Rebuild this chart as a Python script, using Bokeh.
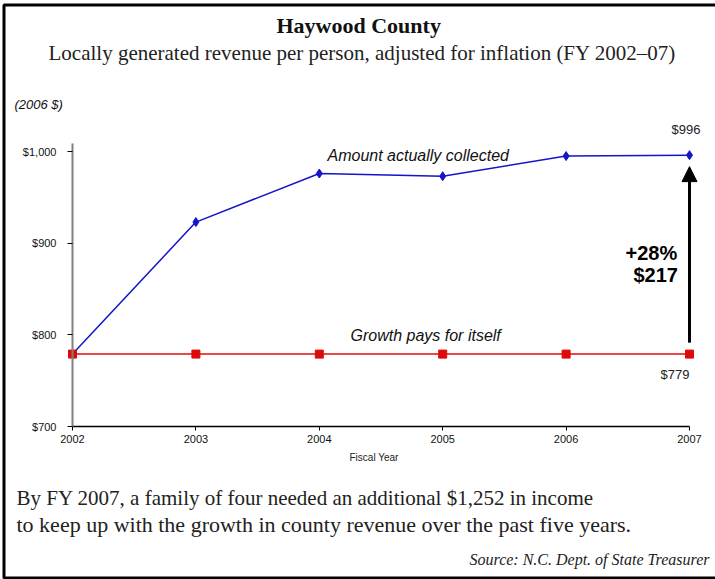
from bokeh.plotting import figure
from bokeh.models import Range1d, FixedTicker, Label, Arrow, NormalHead, NumeralTickFormatter, BoxAnnotation
from bokeh.embed import file_html
from bokeh.resources import INLINE

# ---- data ----
years = [2002, 2003, 2004, 2005, 2006, 2007]
collected = [779, 923, 976, 973, 995, 996]
break_even = [779, 779, 779, 779, 779, 779]
y_ticks = [700, 800, 900, 1000]

title = "Haywood County"
subtitle = "Locally generated revenue per person, adjusted for inflation (FY 2002\u201307)"
unit_note = "(2006 $)"
series_collected = "Amount actually collected"
series_even = "Growth pays for itself"
note1 = "By FY 2007, a family of four needed an additional $1,252 in income"
note2 = "to keep up with the growth in county revenue over the past five years."
source = "Source: N.C. Dept. of State Treasurer"
x_title = "Fiscal Year"

# ---- layout (pixels); the plot frame covers the whole canvas ----
W, H = 715, 579
X_FIRST = 72          # pixel x of first year
Y_BASE = 426          # pixel y of lowest tick
PX_YEAR = 123.4
PX_UNIT = 275 / 300

x0 = years[0] - X_FIRST / PX_YEAR
x1 = x0 + W / PX_YEAR
y0 = y_ticks[0] - (H - Y_BASE) / PX_UNIT
y1 = y0 + H / PX_UNIT

p = figure(width=W, height=H, output_backend="svg", toolbar_location=None,
           x_range=Range1d(x0, x1), y_range=Range1d(y0, y1),
           min_border=0, min_border_left=0, min_border_right=0,
           min_border_top=0, min_border_bottom=0, title=None)
p.outline_line_color = None
p.grid.visible = False
p.background_fill_color = "white"
p.border_fill_color = "white"

xa = p.xaxis[0]
xa.fixed_location = y_ticks[0]
xa.bounds = (years[0], years[-1])
xa.ticker = FixedTicker(ticks=years)
xa.axis_line_color = "black"
xa.axis_line_width = 1.5
xa.major_tick_line_color = "black"
xa.major_tick_out = 4
xa.major_tick_in = 0
xa.minor_tick_out = 0
xa.minor_tick_in = 0
xa.major_label_text_font = "Liberation Sans"
xa.major_label_text_font_size = "11px"
xa.major_label_text_color = "#111111"
xa.major_label_standoff = 4

ya = p.yaxis[0]
ya.fixed_location = years[0]
ya.bounds = (y_ticks[0], 1009)
ya.ticker = FixedTicker(ticks=y_ticks)
ya.formatter = NumeralTickFormatter(format="$0,0")
ya.axis_line_color = "#808080"
ya.axis_line_width = 2
ya.major_tick_line_color = "black"
ya.major_tick_out = 5
ya.major_tick_in = 0
ya.minor_tick_out = 0
ya.minor_tick_in = 0
ya.major_label_text_font = "Liberation Sans"
ya.major_label_text_font_size = "11px"
ya.major_label_text_color = "#111111"
ya.major_label_standoff = 11

# ---- series ----
blue = "#1414cc"
red = "#dd0a0a"
p.line(years, collected, line_color=blue, line_width=1.5)
p.scatter(years, collected, marker="diamond", size=9, fill_color=blue, line_color=blue)
p.line(years, break_even, line_color="#e84848", line_width=2)
p.scatter(years, break_even, marker="square", size=8, fill_color=red, line_color=red)

gap = 12.5
p.add_layout(Arrow(end=NormalHead(size=15, fill_color="black", line_color="black"),
                   x_start=years[-1], y_start=break_even[-1] + gap,
                   x_end=years[-1], y_end=collected[-1] - gap,
                   line_color="black", line_width=3))

# ---- texts (screen units from the canvas' lower-left corner) ----
def lab(text, ax, baseline, fs, font="Liberation Serif", style="normal", color="#111111"):
    shift = 0.39 * fs
    p.add_layout(Label(x=ax, y=H - (baseline - shift), x_units="screen", y_units="screen", text=text,
                       text_font=font, text_font_size="{}px".format(fs), text_font_style=style,
                       text_align="left", text_baseline="alphabetic", text_color=color))

diff = collected[-1] - break_even[-1]
pct = round(100 * diff / break_even[-1])

lab(title, 276, 34, 22, style="bold")
lab(subtitle, 48, 61, 21, color="#222222")
lab(unit_note, 14, 109, 13, font="Liberation Sans", style="italic")
lab(series_collected, 327, 161, 16, font="Liberation Sans", style="italic")
lab(series_even, 350, 341, 16, font="Liberation Sans", style="italic")
lab("${:,}".format(collected[-1]), 671, 134, 13, font="Liberation Sans", color="#222222")
lab("${:,}".format(break_even[-1]), 660, 379, 13, font="Liberation Sans", color="#222222")
lab("+{}%".format(pct), 625, 260, 20, font="Liberation Sans", style="bold", color="black")
lab("${:,}".format(diff), 633, 282, 20, font="Liberation Sans", style="bold", color="black")
lab(x_title, 349, 461, 10, font="Liberation Sans", color="#222222")
lab(note1, 16, 506, 21, color="#222222")
lab(note2, 16, 533, 22, color="#222222")
lab(source, 469, 565, 16, style="italic", color="#222222")

# ---- outer border ----
p.add_layout(BoxAnnotation(left=3.5, right=W + 5, bottom=H - 577.5, top=H - 4.5,
                           left_units="screen", right_units="screen", top_units="screen", bottom_units="screen",
                           fill_color=None, fill_alpha=0, line_color="black", line_width=3, line_alpha=1))

open("out.html", "w").write(file_html(p, INLINE))
